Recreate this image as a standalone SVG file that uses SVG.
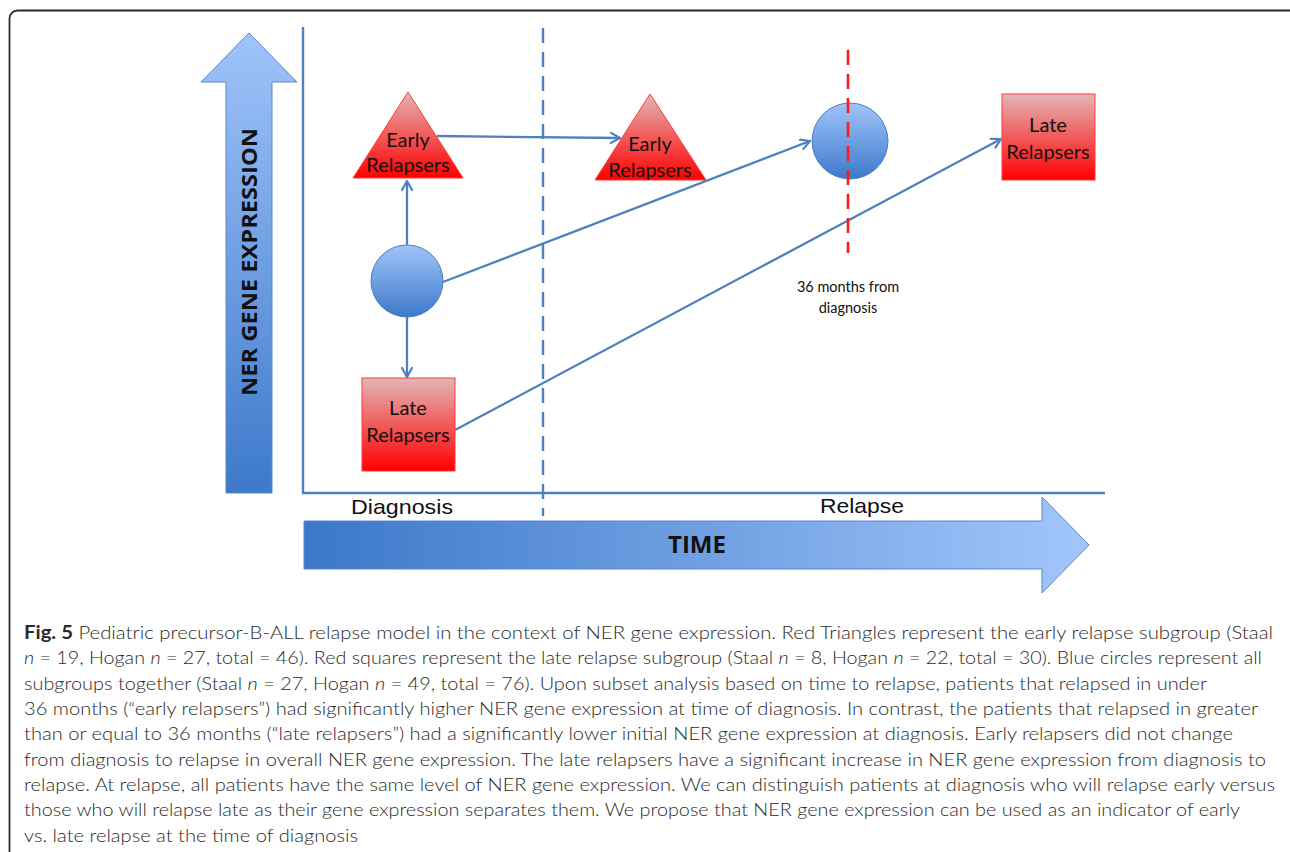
<svg xmlns="http://www.w3.org/2000/svg" width="1290" height="852" viewBox="0 0 1290 852">
<defs>
<linearGradient id="blueV" x1="0" y1="0" x2="0" y2="1"><stop offset="0" stop-color="#a0c4fa"/><stop offset="1" stop-color="#3d79cb"/></linearGradient>
<linearGradient id="blueH" x1="0" y1="0" x2="1" y2="0"><stop offset="0" stop-color="#3b78c9"/><stop offset="1" stop-color="#a2c6fb"/></linearGradient>
<linearGradient id="red" x1="0" y1="0" x2="0" y2="1"><stop offset="0" stop-color="#e3b6b6"/><stop offset="1" stop-color="#ff0000"/></linearGradient>
<marker id="arr" viewBox="0 0 12 12" refX="11" refY="6" markerWidth="12" markerHeight="12" markerUnits="userSpaceOnUse" orient="auto"><path d="M2,1 L11,6 L2,11" fill="none" stroke="#4f81bd" stroke-width="2.2" stroke-linecap="round" stroke-linejoin="round"/></marker>
<style>
.lbl{font-family:Lato,"Open Sans","Liberation Sans",sans-serif;font-size:20px;fill:#111;text-anchor:middle}
.ax{font-family:"Liberation Sans",Arial,sans-serif;font-size:21px;fill:#111;text-anchor:middle}
.cap{font-family:Lato,"Open Sans","Liberation Sans",sans-serif;font-size:18px;font-weight:300;fill:#2a2a2a}
.conn{stroke:#4f81bd;stroke-width:2.3;fill:none}
.blue{fill:url(#blueV);stroke:#4a7ebb;stroke-width:1}
.redS{fill:url(#red);stroke:#ff3a3a;stroke-width:1}
</style>
</defs>
<rect x="9.5" y="10.5" width="1295" height="870" rx="8" fill="#fff" stroke="#2a2a2a" stroke-width="1.8"/>

<g id="y-arrow">
<path d="M249,33 L297,82 L272,82 L272,493 L226,493 L226,82 L201,82 Z" fill="url(#blueV)" stroke="#5a88c8" stroke-width="1"/>
<text x="0" y="0" transform="translate(257,262) rotate(-90)" font-family="'Open Sans','Liberation Sans',sans-serif" font-weight="bold" font-size="22" fill="#111" text-anchor="middle" textLength="268" lengthAdjust="spacingAndGlyphs">NER GENE EXPRESSION</text>
</g>

<g id="axes" stroke="#4f81bd" stroke-width="2.4" fill="none">
<line x1="303" y1="27" x2="303" y2="493"/>
<line x1="302" y1="493" x2="1105" y2="493"/>
</g>

<g id="diagnosis-line"><line x1="543" y1="28" x2="543" y2="516" stroke="#4f81bd" stroke-width="2.4" stroke-dasharray="15,9"/></g>

<g id="time-arrow">
<path d="M304,521 L1042,521 L1042,497 L1089,545 L1042,593 L1042,569 L304,569 Z" fill="url(#blueH)" stroke="#5a88c8" stroke-width="1"/>
<text x="697" y="553" font-family="'Open Sans','Liberation Sans',sans-serif" font-weight="bold" font-size="23" fill="#111" text-anchor="middle" textLength="58" lengthAdjust="spacingAndGlyphs">TIME</text>
</g>

<g id="label-diagnosis"><text class="ax" x="402" y="514" textLength="102" lengthAdjust="spacingAndGlyphs">Diagnosis</text></g>
<g id="label-relapse"><text class="ax" x="862" y="513" textLength="84" lengthAdjust="spacingAndGlyphs">Relapse</text></g>

<g id="connectors">
<line class="conn" x1="407" y1="245" x2="407" y2="181" marker-end="url(#arr)"/>
<line class="conn" x1="407" y1="317" x2="407" y2="377" marker-end="url(#arr)"/>
<line class="conn" x1="437" y1="136" x2="620" y2="138" marker-end="url(#arr)"/>
<line class="conn" x1="443" y1="282" x2="810" y2="141" marker-end="url(#arr)"/>
<line class="conn" x1="455" y1="430" x2="1001" y2="139" marker-end="url(#arr)"/>
</g>

<g id="early-diagnosis">
<path class="redS" d="M408,92 L463,178 L353,178 Z"/>
<text class="lbl" x="408" y="147">Early</text>
<text class="lbl" x="408" y="172">Relapsers</text>
</g>
<g id="all-diagnosis"><circle class="blue" cx="407" cy="281" r="36"/></g>
<g id="late-diagnosis">
<rect class="redS" x="362" y="378" width="93" height="93"/>
<text class="lbl" x="408" y="415">Late</text>
<text class="lbl" x="408" y="442">Relapsers</text>
</g>
<g id="early-relapse">
<path class="redS" d="M650,94 L706,180 L595,180 Z"/>
<text class="lbl" x="650" y="151">Early</text>
<text class="lbl" x="650" y="177">Relapsers</text>
</g>
<g id="all-relapse"><circle class="blue" cx="850" cy="141" r="38"/></g>
<g id="month36-line"><line x1="848" y1="50" x2="848" y2="253" stroke="#ff1a1a" stroke-width="2.6" stroke-dasharray="15,9"/></g>
<g id="late-relapse">
<rect class="redS" x="1002" y="94" width="93" height="86"/>
<text class="lbl" x="1048" y="132">Late</text>
<text class="lbl" x="1048" y="159">Relapsers</text>
</g>
<g id="label-36">
<text class="lbl" x="848" y="292" style="font-size:14.5px">36 months from</text>
<text class="lbl" x="848" y="313" style="font-size:14.5px">diagnosis</text>
</g>

<g id="caption">
<text class="cap" x="24" y="639" textLength="1249" lengthAdjust="spacingAndGlyphs"><tspan font-weight="bold">Fig. 5</tspan> Pediatric precursor-B-ALL relapse model in the context of NER gene expression. Red Triangles represent the early relapse subgroup (Staal</text>
<text class="cap" x="24" y="664" textLength="1238" lengthAdjust="spacingAndGlyphs"><tspan font-style="italic">n</tspan> = 19, Hogan <tspan font-style="italic">n</tspan> = 27, total = 46). Red squares represent the late relapse subgroup (Staal <tspan font-style="italic">n</tspan> = 8, Hogan <tspan font-style="italic">n</tspan> = 22, total = 30). Blue circles represent all</text>
<text class="cap" x="24" y="690" textLength="1183" lengthAdjust="spacingAndGlyphs">subgroups together (Staal <tspan font-style="italic">n</tspan> = 27, Hogan <tspan font-style="italic">n</tspan> = 49, total = 76). Upon subset analysis based on time to relapse, patients that relapsed in under</text>
<text class="cap" x="24" y="715" textLength="1234" lengthAdjust="spacingAndGlyphs">36 months (“early relapsers”) had significantly higher NER gene expression at time of diagnosis. In contrast, the patients that relapsed in greater</text>
<text class="cap" x="24" y="740" textLength="1209" lengthAdjust="spacingAndGlyphs">than or equal to 36 months (“late relapsers”) had a significantly lower initial NER gene expression at diagnosis. Early relapsers did not change</text>
<text class="cap" x="24" y="766" textLength="1242" lengthAdjust="spacingAndGlyphs">from diagnosis to relapse in overall NER gene expression. The late relapsers have a significant increase in NER gene expression from diagnosis to</text>
<text class="cap" x="24" y="791" textLength="1251" lengthAdjust="spacingAndGlyphs">relapse. At relapse, all patients have the same level of NER gene expression. We can distinguish patients at diagnosis who will relapse early versus</text>
<text class="cap" x="24" y="816" textLength="1216" lengthAdjust="spacingAndGlyphs">those who will relapse late as their gene expression separates them. We propose that NER gene expression can be used as an indicator of early</text>
<text class="cap" x="24" y="842" textLength="334" lengthAdjust="spacingAndGlyphs">vs. late relapse at the time of diagnosis</text>
</g>
</svg>
